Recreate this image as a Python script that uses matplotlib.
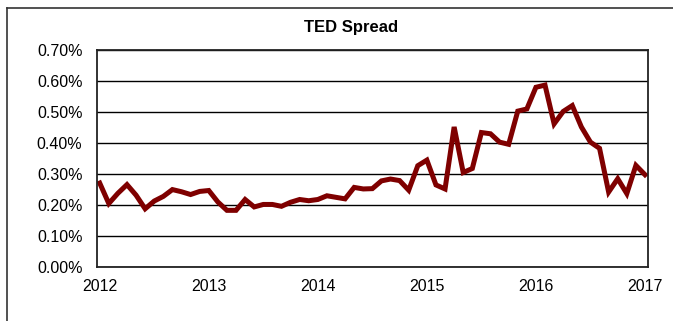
import matplotlib
matplotlib.use("Agg")
import matplotlib.pyplot as plt
from matplotlib.lines import Line2D
from matplotlib.ticker import FuncFormatter

# Monthly TED spread (%), Jan 2012 .. Jan 2017
ted_spread = [
    0.271, 0.205, 0.238, 0.266, 0.232, 0.188, 0.213, 0.228, 0.250, 0.243, 0.234, 0.244,
    0.247, 0.210, 0.183, 0.183, 0.218, 0.194, 0.202, 0.202, 0.196, 0.209, 0.218, 0.214,
    0.218, 0.230, 0.225, 0.220, 0.257, 0.252, 0.253, 0.278, 0.284, 0.279, 0.248, 0.327,
    0.345, 0.265, 0.252, 0.452, 0.305, 0.318, 0.434, 0.430, 0.403, 0.396, 0.503, 0.510,
    0.580, 0.587, 0.462, 0.502, 0.521, 0.452, 0.403, 0.383, 0.242, 0.285, 0.237, 0.328,
    0.298,
]
year_labels = ["2012", "2013", "2014", "2015", "2016", "2017"]
y_ticks = [0.0, 0.1, 0.2, 0.3, 0.4, 0.5, 0.6, 0.7]

plt.rcParams['font.family'] = ['Liberation Sans', 'DejaVu Sans']

fig = plt.figure(figsize=(6.73, 3.21), dpi=100)
ax = fig.add_axes([0.1441, 0.168, 0.819, 0.676])

months = list(range(len(ted_spread)))
ax.plot(months, ted_spread, color='#7F0000', linewidth=3.6, solid_joinstyle='miter')

ax.set_xlim(-0.3, 60.35)
ax.set_ylim(0, 0.7)
ax.set_yticks(y_ticks)
ax.yaxis.set_major_formatter(FuncFormatter(lambda v, p: f"{v:.2f}%"))
ax.set_xticks([12 * i for i in range(len(year_labels))])
ax.set_xticklabels(year_labels)
ax.tick_params(axis='both', length=0, labelsize=11.5, colors='black')
ax.tick_params(axis='y', pad=10.5)
ax.tick_params(axis='x', pad=8.5)
ax.grid(True, axis='y', color='black', linewidth=1.0)
ax.set_axisbelow(True)
for s in ax.spines.values():
    s.set_color('#222222')
    s.set_linewidth(1.3)

fig.text(0.5215, 0.914, "TED Spread", ha='center', va='center', fontsize=12, fontweight='bold')

# outer chart border (left and top only visible)
fig.add_artist(Line2D([0.011, 0.011], [0.0, 0.975], transform=fig.transFigure, color='#333333', linewidth=1.2))
fig.add_artist(Line2D([0.011, 1.0], [0.975, 0.975], transform=fig.transFigure, color='#333333', linewidth=1.2))

fig.savefig("out.png", dpi=100)
